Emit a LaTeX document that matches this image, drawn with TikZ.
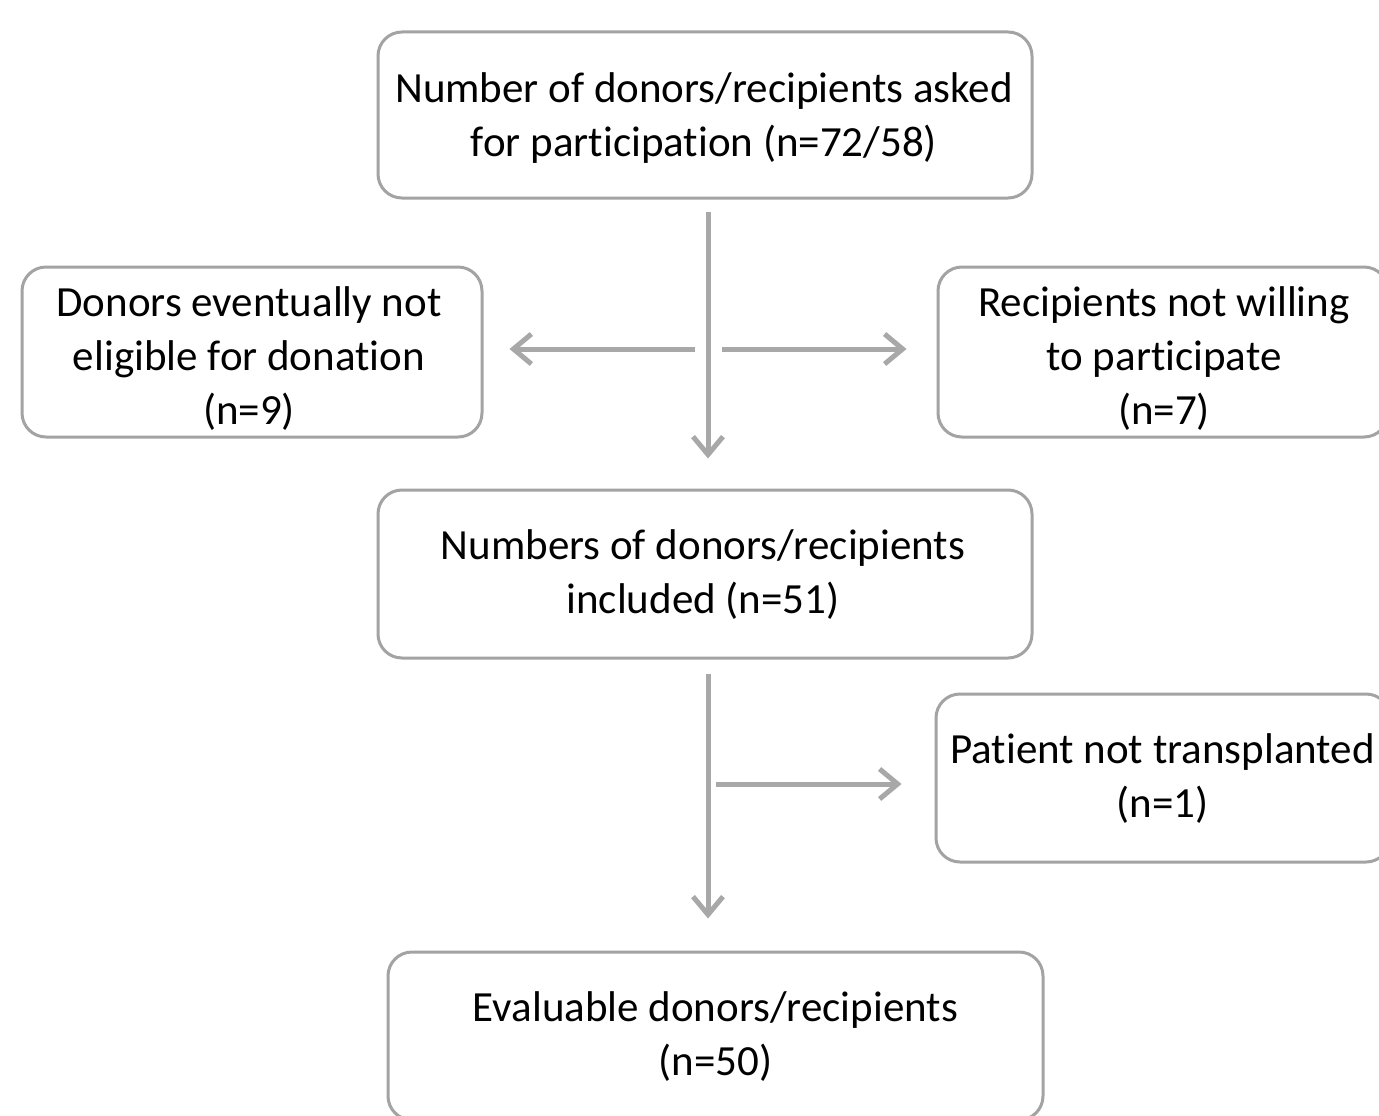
\documentclass[tikz,border=0pt]{standalone}
\usepackage{fontspec}
\setmainfont[Ligatures=NoCommon]{Carlito}
\usetikzlibrary{arrows.meta}
\definecolor{boxgray}{HTML}{A3A3A3}
\definecolor{arrgray}{HTML}{A8A8A8}
\begin{document}
\begin{tikzpicture}[x=1pt,y=-1pt,
  box/.style={draw=boxgray, line width=3pt, rounded corners=24pt, rectangle, inner sep=0pt},
  txt/.style={align=center, inner sep=0pt, font=\fontsize{43}{54}\selectfont, text=black},
  arr/.style={draw=arrgray, line width=5pt, -{Straight Barb[length=18pt,width=30pt,line width=5pt]}}]
\clip (0,0) rectangle (1379,1116);
\fill[white] (0,0) rectangle (1379,1116);
\node[box, minimum width=654pt, minimum height=166pt] (top) at (705,115) {};
\node[txt] (toptext) at (704,118) {Number of donors/recipients asked\\for participation (n=72/58)};
\node[box, minimum width=460pt, minimum height=170pt] (left) at (252,352) {};
\node[txt] (lefttext) at (249,359) {Donors eventually not\\eligible for donation\\(n=9)};
\node[box, minimum width=450pt, minimum height=170pt] (right) at (1163,352) {};
\node[txt] (righttext) at (1164,359) {Recipients not willing\\to participate\\(n=7)};
\node[box, minimum width=654pt, minimum height=168pt] (mid) at (705,574) {};
\node[txt] (midtext) at (703,575) {Numbers of donors/recipients\\included (n=51)};
\node[box, minimum width=454pt, minimum height=168pt] (pnt) at (1163,778) {};
\node[txt] (pnttext) at (1162.5,779) {Patient not transplanted\\(n=1)};
\node[box, minimum width=655pt, minimum height=168pt] (eval) at (715.5,1036) {};
\node[txt] (evaltext) at (715.5,1037) {Evaluable donors/recipients\\(n=50)};
\coordinate (lst) at (695,349);
\coordinate (rst) at (722,349);
\coordinate (r2st) at (716,784);
\draw[arr, shorten <=12pt, shorten >=30pt] ([xshift=3pt]top.south) -- ([xshift=3pt]mid.north);
\draw[arr, shorten >=26pt] (lst) -- (lst -| left.east);
\draw[arr, shorten >=30pt] (rst) -- (rst -| right.west);
\draw[arr, shorten <=14pt, shorten >=32pt] ([xshift=3pt]mid.south) -- ([xshift=-7.5pt]eval.north);
\draw[arr, shorten >=33pt] (r2st) -- (r2st -| pnt.west);
\end{tikzpicture}
\end{document}
